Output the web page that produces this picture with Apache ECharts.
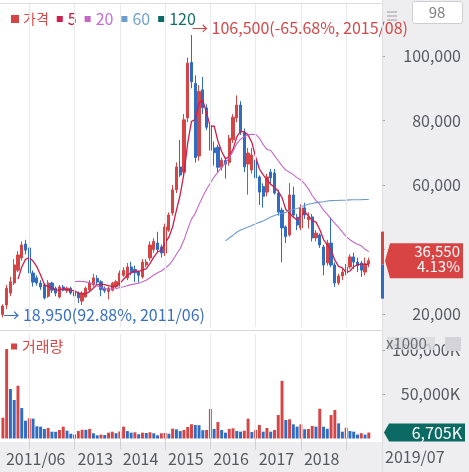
<!DOCTYPE html>
<html><head><meta charset="utf-8">
<script src="https://cdn.jsdelivr.net/npm/echarts@6/dist/echarts.min.js"></script>
<style>
html,body{margin:0;padding:0;background:#fff;}
#wrap{position:relative;width:469px;height:472px;overflow:hidden;}
#panelR{position:absolute;left:382px;top:0;width:87px;height:472px;background:#eeeef1;}
#panelB{position:absolute;left:0;top:442px;width:469px;height:30px;background:#eeeef1;}
#c{position:absolute;left:0;top:0;width:469px;height:472px;}
</style>
</head><body>
<div id="wrap"><div id="panelR"></div><div id="panelB"></div><div id="c"></div></div>
<script>
const months = [
'2011/06','2011/07','2011/08','2011/09','2011/10','2011/11','2011/12',
'2012/01','2012/02','2012/03','2012/04','2012/05','2012/06','2012/07','2012/08','2012/09','2012/10','2012/11','2012/12',
'2013/01','2013/02','2013/03','2013/04','2013/05','2013/06','2013/07','2013/08','2013/09','2013/10','2013/11','2013/12',
'2014/01','2014/02','2014/03','2014/04','2014/05','2014/06','2014/07','2014/08','2014/09','2014/10','2014/11','2014/12',
'2015/01','2015/02','2015/03','2015/04','2015/05','2015/06','2015/07','2015/08','2015/09','2015/10','2015/11','2015/12',
'2016/01','2016/02','2016/03','2016/04','2016/05','2016/06','2016/07','2016/08','2016/09','2016/10','2016/11','2016/12',
'2017/01','2017/02','2017/03','2017/04','2017/05','2017/06','2017/07','2017/08','2017/09','2017/10','2017/11','2017/12',
'2018/01','2018/02','2018/03','2018/04','2018/05','2018/06','2018/07','2018/08','2018/09','2018/10','2018/11','2018/12',
'2019/01','2019/02','2019/03','2019/04','2019/05','2019/06','2019/07'];

const open = [
19800,22800,26500,29600,33600,37400,41700,40500,32700,31200,
29600,29000,25500,29600,28000,25300,28400,27200,28000,26800,
26500,24000,25300,27500,29000,31000,30000,28000,27000,27400,
28500,29000,32000,31200,34600,33800,33000,31500,35200,37400,
40000,42000,40800,38900,46000,51300,58500,65600,64000,80800,
98000,91500,69000,89500,83900,78500,71500,71700,65500,67600,
67000,74000,80800,84800,76400,66500,64650,67700,62500,59500,
57800,64000,63700,57500,52200,47000,44500,56900,50000,46700,
52900,49200,50100,43600,44500,40800,35800,42000,35200,29600,
31800,32700,34600,37700,36100,35800,33000,35500];
const close = [
22500,28000,30000,35200,38300,41400,39800,32700,29900,29600,
28400,25000,29600,27400,26500,28400,27400,28000,26500,25600,
25000,26500,28000,29600,31200,29900,27600,27200,28000,29600,
30000,32700,33500,34600,33000,32800,32000,36100,36100,41400,
42500,40000,38900,47000,50700,58500,65600,63100,80200,97800,
92000,68500,89000,84000,77900,70800,70000,65500,67700,66500,
74500,81000,84800,76400,65600,69900,69300,62200,57800,56500,
62500,62200,57500,51600,46700,44000,56900,50700,47600,52900,
50700,50100,43600,45100,41400,35200,42000,35200,29600,31800,
33000,34600,37700,36100,35000,33600,35100,36550];
const low = [
18950,21500,25500,29000,33000,36500,38500,32000,28500,28800,
27500,24500,25000,26500,25500,24800,27000,26500,26000,25000,
23400,22800,25000,27000,28500,29000,25500,26500,24500,27000,
28000,28500,31500,30500,32000,29900,29800,31000,34500,36500,
39000,39000,37500,38000,45500,50500,57500,62500,63000,79500,
90000,67000,67500,82000,77000,62000,66000,64000,64500,62000,
66000,73000,79500,75500,64000,57000,63500,58000,53800,53000,
56500,60000,57000,50500,36000,42000,44000,50000,46000,46000,
49500,46500,42500,42500,40500,32000,35000,34500,28400,29000,
30500,32000,34000,34000,33000,31500,32000,34500];
const high = [
23000,29000,31500,37000,39500,42500,43000,41000,33500,32000,
30500,29500,30500,30000,28500,29000,29000,28500,28500,27500,
27000,27000,28500,30500,32500,32000,30500,28500,28500,30000,
30500,33500,34500,35800,36200,35000,33500,37000,37000,42500,
43500,45500,41500,48000,51500,60000,67000,74000,82000,99500,
106500,94000,91000,93500,85000,79500,73500,72500,68500,68500,
75500,82000,87800,86000,77500,71500,71500,68500,63000,60500,
63500,65000,65000,58500,53000,47500,60600,59500,51000,54000,
54500,51500,51000,46000,45000,41500,43000,50000,36000,32500,
34000,35500,38500,39000,37500,36500,37500,37500];
// volume in thousands of shares (K)
const volume = [
23500,101000,55900,43500,59600,34400,20100,22800,22500,13800,
13400,10800,11900,7700,7600,9600,13400,8800,5400,4500,
8400,9900,9800,10800,5900,3600,4400,4000,6600,7700,
6000,8000,13400,8400,6600,7000,4800,6600,6200,7000,
5900,3600,5900,6200,5400,11100,10400,8400,9600,13000,
16100,15300,15000,9400,9600,33300,10800,18600,9600,6600,
10800,11500,8400,7700,8800,22400,7300,9600,15300,7700,
11900,7700,9600,26500,65100,20900,21700,16000,13400,16000,
10400,10800,14200,13400,33600,13300,11000,26500,32200,17100,
7700,12200,8400,7700,4400,6000,4400,6705];

const maPeriods = [5, 20, 60, 120];
const priceTicks = [20000, 40000, 60000, 80000, 100000];
const volTicks = [50000, 100000];
const yearGridMonths = ['2012/01','2013/01','2014/01','2015/01','2016/01','2017/01','2018/01','2019/01'];
const xLabelMonths = ['2011/06','2013/01','2014/01','2015/01','2016/01','2017/01','2018/01'];

const FONT = '"Noto Sans CJK KR","Noto Sans",sans-serif';
const UP = '#d64545', DOWN = '#2f6cc2';
const MA_COLORS = ['#cf1d4c', '#c466c9', '#6d9ccf', '#0b6a63'];
const LEG_TEXT = ['#d84848', '#d0103a', '#c36fd0', '#6f9fcf', '#136e66'];

const cats = months.concat([' ', '  ', '   ']);
const fmt = v => v.toLocaleString('en-US');

function movingAvg(n) {
  const r = [];
  for (let i = 0; i < close.length; i++) {
    if (i < n - 1) { r.push('-'); continue; }
    let s = 0;
    for (let j = i - n + 1; j <= i; j++) s += close[j];
    r.push(Math.round(s / n));
  }
  return r;
}

const ohlc = months.map((m, i) => [open[i], close[i], low[i], high[i]]);
const volData = volume.map((v, i) => ({
  value: v,
  itemStyle: { color: (i === 0 || v >= volume[i - 1]) ? UP : DOWN }
}));

let hiI = 0, loI = 0;
high.forEach((v, i) => { if (v > high[hiI]) hiI = i; });
low.forEach((v, i) => { if (v < low[loI]) loI = i; });
const last = close[close.length - 1];
const hiPct = ((last - high[hiI]) / high[hiI] * 100).toFixed(2);
const loPct = ((last - low[loI]) / low[loI] * 100).toFixed(2);
const dayPct = ((last - close[close.length - 2]) / close[close.length - 2] * 100).toFixed(2);

const blanks = cats.map(() => '-');
const gridLineStyle = { color: '#e9e9ec', width: 1, type: 'solid' };

const chart = echarts.init(document.getElementById('c'), null, { renderer: 'canvas' });

const maSeries = maPeriods.map((p, k) => ({
  name: String(p), type: 'line', xAxisIndex: 0, yAxisIndex: 0,
  data: movingAvg(p), showSymbol: false, symbol: 'none', smooth: false,
  lineStyle: { color: MA_COLORS[k], width: k === 0 ? 1.3 : 1.1 },
  itemStyle: { color: MA_COLORS[k] }, z: 3, silent: true
}));

const option = {
  animation: false,
  backgroundColor: 'transparent',
  textStyle: { fontFamily: FONT },
  legend: [
    {
      left: 6, top: 6, icon: 'rect', itemWidth: 6, itemHeight: 6, itemGap: 8, selectedMode: false,
      textStyle: { fontSize: 16, fontFamily: FONT },
      data: ['가격', '5', '20', '60', '120'].map((n, k) => ({
        name: n,
        itemStyle: { color: k === 0 ? UP : MA_COLORS[k - 1] },
        textStyle: { color: LEG_TEXT[k], fontSize: k === 0 ? 14 : 16 }
      }))
    },
    {
      left: 6, top: 334, icon: 'rect', itemWidth: 6, itemHeight: 6, selectedMode: false,
      textStyle: { fontSize: 15, fontFamily: FONT },
      data: [{ name: '거래량', itemStyle: { color: UP }, textStyle: { color: '#d84848' } }]
    }
  ],
  grid: [
    { left: 1, top: 4.4, width: 381, height: 322.5 },
    { left: 1, top: 334, width: 381, height: 104.5 }
  ],
  xAxis: [
    { gridIndex: 0, type: 'category', data: cats, boundaryGap: true,
      axisLine: { show: false }, axisTick: { show: false }, axisLabel: { show: false }, splitLine: { show: false } },
    { gridIndex: 1, type: 'category', data: cats, boundaryGap: true,
      axisLine: { show: false },
      axisTick: { show: true, alignWithLabel: true, length: 11, interval: (i, v) => yearGridMonths.includes(v),
        lineStyle: { color: '#cfcfd3' } },
      axisLabel: { interval: (i, v) => xLabelMonths.includes(v), align: 'left', margin: 12,
        fontSize: 16, color: '#555a60', fontFamily: FONT, padding: [0, 0, 0, 3],
        formatter: v => (v === months[0] ? v : v.slice(0, 4)) },
      splitLine: { show: false } }
  ],
  yAxis: [
    { gridIndex: 0, type: 'value', position: 'right', min: 16000, max: 116000,
      splitLine: { show: false }, axisLine: { show: false },
      axisTick: { show: true, length: 3, customValues: priceTicks, lineStyle: { color: '#a0a0a6' } },
      axisLabel: { customValues: priceTicks, align: 'right', margin: 79, fontSize: 16, color: '#555a60',
        fontFamily: FONT, formatter: v => fmt(v) } },
    { gridIndex: 1, type: 'value', position: 'right', min: 0, max: 118000,
      splitLine: { show: false }, axisLine: { show: false },
      axisTick: { show: true, length: 3, customValues: volTicks, lineStyle: { color: '#a0a0a6' } },
      axisLabel: { customValues: volTicks, align: 'right', margin: 78, fontSize: 16, color: '#555a60',
        fontFamily: FONT, formatter: v => fmt(v) + 'K' } }
  ],
  series: [
    { name: 'grid-p', type: 'line', xAxisIndex: 0, yAxisIndex: 0, data: blanks, symbol: 'none', silent: true, z: 0,
      markLine: { silent: true, symbol: ['none', 'none'], label: { show: false }, lineStyle: gridLineStyle,
        animation: false, data: yearGridMonths.map(m => ({ xAxis: m })) } },
    { name: 'grid-v', type: 'line', xAxisIndex: 1, yAxisIndex: 1, data: blanks, symbol: 'none', silent: true, z: 0,
      markLine: { silent: true, symbol: ['none', 'none'], label: { show: false }, lineStyle: gridLineStyle,
        animation: false, data: yearGridMonths.map(m => ({ xAxis: m })) } },
    { name: '가격', type: 'candlestick', xAxisIndex: 0, yAxisIndex: 0, data: ohlc, barWidth: '72%', z: 2,
      itemStyle: { color: UP, color0: DOWN, borderColor: UP, borderColor0: DOWN, borderWidth: 1 },
      markPoint: {
        symbol: 'circle', symbolSize: 1, silent: true, animation: false,
        itemStyle: { color: 'rgba(0,0,0,0)' },
        data: [
          { coord: [months[hiI], high[hiI]],
            label: { show: true, position: 'right', distance: 0, offset: [0, -7], fontSize: 16, fontFamily: FONT,
              color: '#d04a4a', formatter: '→ ' + fmt(high[hiI]) + '(' + hiPct + '%, ' + months[hiI] + ')' } },
          { coord: [months[loI], low[loI]],
            label: { show: true, position: 'right', distance: 0, offset: [0, -2], fontSize: 16, fontFamily: FONT,
              color: '#3a70c0', formatter: '→ ' + fmt(low[loI]) + '(' + loPct + '%, ' + months[loI] + ')' } }
        ]
      } },
    ...maSeries,
    { name: '거래량', type: 'bar', xAxisIndex: 1, yAxisIndex: 1, data: volData, barWidth: '78%', z: 2 }
  ]
};
chart.setOption(option);

const yP = chart.convertToPixel({ yAxisIndex: 0 }, last);
const yV = chart.convertToPixel({ yAxisIndex: 1 }, volume[volume.length - 1]);

chart.setOption({
  graphic: [
    { type: 'line', z: 50, shape: { x1: 0, y1: 3.5, x2: 382, y2: 3.5 }, style: { stroke: '#dcdce0', lineWidth: 1 } },
    { type: 'line', z: 50, shape: { x1: 0, y1: 330.5, x2: 382, y2: 330.5 }, style: { stroke: '#d6d6da', lineWidth: 1 } },
    { type: 'line', z: 50, shape: { x1: 382.5, y1: 0, x2: 382.5, y2: 472 }, style: { stroke: '#dedee2', lineWidth: 1 } },
    // top-right controls
    { type: 'rect', z: 50, shape: { x: 387, y: 11, width: 10, height: 2 }, style: { fill: '#c6c6ca' } },
    { type: 'rect', z: 50, shape: { x: 387, y: 15, width: 10, height: 2 }, style: { fill: '#c6c6ca' } },
    { type: 'rect', z: 50, shape: { x: 387, y: 19, width: 10, height: 2 }, style: { fill: '#c6c6ca' } },
    { type: 'rect', z: 50, shape: { x: 412.5, y: 1.5, width: 50, height: 22, r: 2 }, style: { fill: '#fff', stroke: '#cfcfd3', lineWidth: 1 } },
    { type: 'text', z: 51, x: 437, y: 12.5, style: { text: '98', fill: '#808086', font: '15px ' + FONT, align: 'center', verticalAlign: 'middle' } },
    // volume unit
    { type: 'rect', z: 50, shape: { x: 387, y: 337, width: 48, height: 13 }, style: { fill: '#d9d9dc', opacity: 0.8 } },
    { type: 'text', z: 51, x: 386, y: 343, style: { text: 'x1000', fill: '#666a70', font: '15px ' + FONT, align: 'left', verticalAlign: 'middle' } },
    { type: 'rect', z: 50, shape: { x: 445, y: 337, width: 16, height: 14 }, style: { fill: '#d4d4d8' } },
    // current price marker
    { type: 'rect', z: 50, shape: { x: 381, y: yP - 29, width: 3, height: 33 }, style: { fill: UP } },
    { type: 'rect', z: 50, shape: { x: 381, y: yP + 4, width: 3, height: 34 }, style: { fill: DOWN } },
    { type: 'polygon', z: 52, shape: { points: [[385, yP], [390, yP - 17.5], [463, yP - 17.5], [463, yP + 17.5], [390, yP + 17.5]] },
      style: { fill: '#d84444' } },
    { type: 'text', z: 53, x: 460, y: yP - 1.5, style: { text: fmt(last) + '\n' + dayPct + '%', fill: '#fff',
      font: '15px ' + FONT, lineHeight: 15, align: 'right', verticalAlign: 'middle' } },
    // current volume marker
    { type: 'polygon', z: 52, shape: { points: [[384, yV], [389, yV - 9], [465, yV - 9], [465, yV + 9], [389, yV + 9]] },
      style: { fill: '#0b6a63' } },
    { type: 'text', z: 53, x: 462, y: yV, style: { text: fmt(volume[volume.length - 1]) + 'K', fill: '#fff',
      font: '16px ' + FONT, align: 'right', verticalAlign: 'middle' } },
    // last date
    { type: 'text', z: 51, x: 385, y: 457, style: { text: months[months.length - 1], fill: '#555a60',
      font: '16px ' + FONT, align: 'left', verticalAlign: 'middle' } }
  ]
});
</script>
</body></html>
